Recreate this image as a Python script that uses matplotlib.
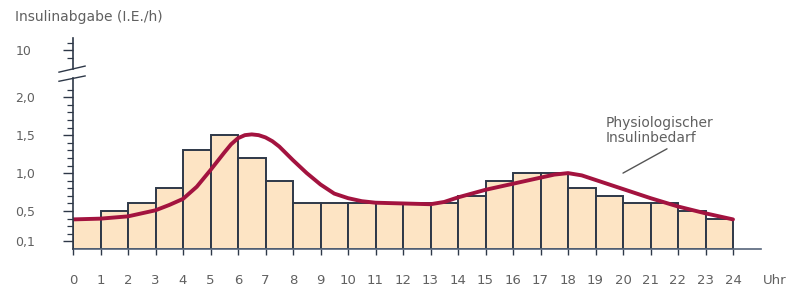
import numpy as np
import matplotlib
matplotlib.use('Agg')
import matplotlib.pyplot as plt

# hourly basal rate (bars), hour 0..23
hours = np.arange(24)
basal_rate = [0.4, 0.5, 0.6, 0.8, 1.3, 1.5, 1.2, 0.9, 0.6, 0.6, 0.6, 0.6,
              0.6, 0.6, 0.7, 0.9, 1.0, 1.0, 0.8, 0.7, 0.6, 0.6, 0.5, 0.4]

# physiological insulin demand (curve)
demand_h = [0, 1, 2, 3, 3.5, 4, 4.5, 5, 5.5, 5.75, 6, 6.25, 6.5, 6.75, 7,
            7.25, 7.5, 8, 8.5, 9, 9.5, 10, 10.5, 11, 12, 13, 13.5, 14, 15,
            16, 17, 17.5, 18, 18.5, 19, 20, 21, 22, 23, 24]
demand_v = [0.39, 0.40, 0.43, 0.51, 0.58, 0.66, 0.82, 1.04, 1.27, 1.38, 1.46,
            1.50, 1.51, 1.50, 1.47, 1.42, 1.35, 1.17, 1.00, 0.85, 0.73, 0.67,
            0.63, 0.61, 0.60, 0.59, 0.62, 0.68, 0.78, 0.86, 0.94, 0.98, 1.00,
            0.97, 0.91, 0.79, 0.67, 0.56, 0.47, 0.39]

ytick_pos = [0.1, 0.5, 1.0, 1.5, 2.0, 2.62]
ytick_lab = ['0,1', '0,5', '1,0', '1,5', '2,0', '10']
xtick_lab = [str(h) for h in range(25)]

gray = '#606060'
edge = '#2e3848'
fill = '#fde4c4'
red = '#a3133f'

fig = plt.figure(figsize=(7.9, 2.87), dpi=100)
ax = fig.add_axes([73 / 790, 38 / 287, 687.5 / 790, 211 / 287])

ax.bar(hours, basal_rate, width=1.0, align='edge', color=fill,
       edgecolor=edge, linewidth=1.4, zorder=2)
ax.plot(demand_h, demand_v, color=red, lw=2.8, zorder=3,
        solid_capstyle='round', solid_joinstyle='round')

ax.set_xlim(0, 25)
ax.set_ylim(0, 2.78)

for s in ['top', 'right', 'left']:
    ax.spines[s].set_visible(False)
ax.spines['bottom'].set_color('#56657a')
ax.spines['bottom'].set_linewidth(1.2)

# broken y axis drawn by hand
ax.plot([0, 0], [0, 2.25], color=edge, lw=1.2, clip_on=False, zorder=4)
ax.plot([0, 0], [2.37, 2.78], color=edge, lw=1.2, clip_on=False, zorder=4)
ax.plot([-0.51, 0.44], [2.33, 2.41], color=edge, lw=1.0, clip_on=False)
ax.plot([-0.51, 0.44], [2.21, 2.28], color=edge, lw=1.0, clip_on=False)

ax.set_yticks(ytick_pos)
ax.set_yticklabels(ytick_lab, ha='left')
ax.set_yticks([v / 10 for v in range(2, 22) if v not in (5, 10, 15, 20)] + [2.52, 2.72],
              minor=True)
ax.tick_params(axis='y', which='major', length=7, width=1.0, color=edge,
               pad=34.5, labelsize=9, labelcolor=gray)
ax.tick_params(axis='y', which='minor', length=4, width=0.9, color=edge)

ax.set_xticks(range(25))
ax.set_xticklabels(xtick_lab)
ax.tick_params(axis='x', length=4, width=1.0, color=edge, pad=14,
               labelsize=9.5, labelcolor=gray)

fig.text(775 / 790, 1 - 280 / 287, 'Uhr', ha='center', va='center',
         fontsize=9.5, color=gray)
fig.text(15 / 790, 1 - 17 / 287, 'Insulinabgabe (I.E./h)', ha='left',
         va='center', fontsize=10, color=gray)

ax.text(19.38, 1.75, 'Physiologischer\nInsulinbedarf', ha='left', va='top',
        fontsize=10, color=gray, linespacing=1.05)
ax.annotate('', xy=(20.0, 1.0), xytext=(21.6, 1.32),
            arrowprops=dict(arrowstyle='-', color='#555555', lw=1.0,
                            shrinkA=0, shrinkB=0))

plt.savefig('out.png', dpi=100)
plt.close()
